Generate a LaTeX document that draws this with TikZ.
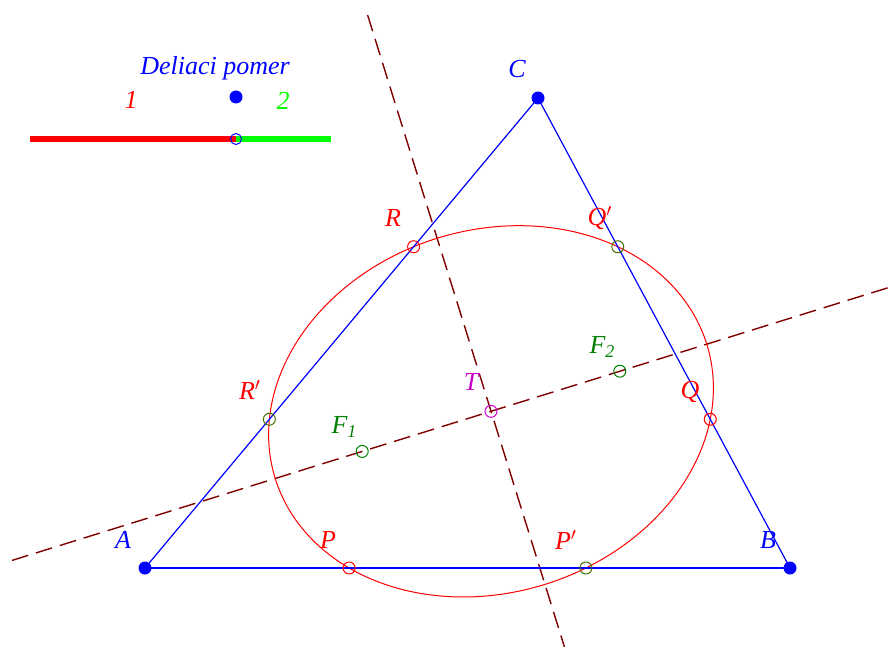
\documentclass[tikz,border=0pt]{standalone}
\usepackage{fontspec}
\setmainfont{Liberation Serif}
\usetikzlibrary{calc}
\definecolor{axiscol}{RGB}{128,0,0}
\definecolor{ptblue}{RGB}{0,0,255}
\definecolor{ptred}{RGB}{255,0,0}
\definecolor{fgreen}{RGB}{0,128,0}
\definecolor{olivecol}{RGB}{70,110,0}
\definecolor{brightgreen}{RGB}{0,255,0}
\definecolor{magentacol}{RGB}{204,0,204}
\begin{document}
\begin{tikzpicture}[x=0.5pt,y=-0.5pt,
  lbl/.style={font=\fontsize{13}{15}\selectfont\itshape, inner sep=0pt},
  bigdot/.style={circle, fill=ptblue, draw=none, minimum size=6.5pt, inner sep=0pt},
  ring/.style={circle, draw=#1, line width=0.5pt, minimum size=6pt, inner sep=0pt},
  side/.style={ptblue, line width=0.6pt},
  axisline/.style={axiscol, line width=0.7pt, dash pattern=on 8.5pt off 4pt},
  bar/.style={line width=3pt}]
\useasboundingbox (0,0) rectangle (893,647);
% vertices
\coordinate (A) at (145,568);
\coordinate (B) at (790,568);
\coordinate (C) at (538,98);
\coordinate (T) at (491,411.33);
\coordinate (P)  at ($(A)!0.3165!(B)$);
\coordinate (P2) at ($(A)!0.6835!(B)$);
\coordinate (Q)  at ($(B)!0.3165!(C)$);
\coordinate (Q2) at ($(B)!0.6835!(C)$);
\coordinate (R)  at ($(C)!0.3165!(A)$);
\coordinate (R2) at ($(C)!0.6835!(A)$);
\coordinate (F1) at (362.2,451.4);
\coordinate (F2) at (619.8,371.2);
% axes of the ellipse
\coordinate (M1) at (12,560.4);
\coordinate (M2) at (893,286.2);
\coordinate (N1) at (367.6,15);
\coordinate (N2) at (565.7,651);
\draw[axisline] (M1) -- (M2);
\draw[axisline] (N1) -- (N2);
% ellipse
\draw[ptred, line width=0.5pt] plot[domain=0:357, samples=120, smooth cycle]
  ({491 + 27.85*cos(\x) + 220.64*sin(\x)}, {411.33 - 185.65*cos(\x)});
% triangle
\draw[side] (A) -- (C) -- (B);
\draw[ptblue, line width=0.9pt] (A) -- (B);
% points
\node[bigdot] (dA) at (A) {};
\node[bigdot] (dB) at (B) {};
\node[bigdot] (dC) at (C) {};
\node[ring=ptred] (cP) at (P) {};
\node[ring=ptred] (cQ) at (Q) {};
\node[ring=ptred] (cR) at (R) {};
\node[ring=olivecol] (cP2) at (P2) {};
\node[ring=olivecol] (cQ2) at (Q2) {};
\node[ring=olivecol] (cR2) at (R2) {};
\node[ring=fgreen] (cF1) at (F1) {};
\node[ring=fgreen] (cF2) at (F2) {};
\node[ring=magentacol] (cT) at (T) {};
% labels
\node[lbl, ptblue] (lA) at (123,540) {A};
\node[lbl, ptblue] (lB) at (768,540) {B};
\node[lbl, ptblue] (lC) at (517,69) {C};
\node[lbl, ptred] (lP) at (328,540) {P};
\node[lbl, ptred] (lP2) at (566,540) {P$'$};
\node[lbl, ptred] (lQ) at (690,392) {Q};
\node[lbl, ptred] (lQ2) at (600,218) {Q$'$};
\node[lbl, ptred] (lR) at (393,218) {R};
\node[lbl, ptred] (lR2) at (250,390) {R$'$};
\node[lbl, magentacol] (lT) at (471,382) {T};
\node[lbl, fgreen] (lF1) at (344,427) {F\raisebox{-0.35ex}{\fontsize{9}{10}\selectfont 1}};
\node[lbl, fgreen] (lF2) at (602,347) {F\raisebox{-0.35ex}{\fontsize{9}{10}\selectfont 2}};
% division ratio widget
\node[lbl, ptblue] (title) at (215,68) {Deliaci pomer};
\node[lbl, ptred] (one) at (131,100) {1};
\node[lbl, brightgreen] (two) at (283,101) {2};
\node[bigdot] (handle) at (236,97) {};
\coordinate (S0) at (30,139);
\coordinate (S1) at (236,139);
\coordinate (S2) at (331,139);
\draw[bar, ptred] (S0) -- (S1);
\draw[bar, brightgreen] (S1) -- (S2);
\node[ring=ptblue, minimum size=5.5pt] (split) at (S1) {};
\end{tikzpicture}
\end{document}
